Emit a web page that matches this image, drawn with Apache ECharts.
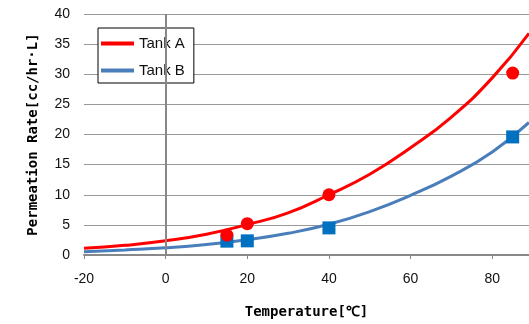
<!DOCTYPE html>
<html>
<head>
<meta charset="utf-8">
<script src="https://cdn.jsdelivr.net/npm/echarts@6/dist/echarts.min.js"></script>
<style>
  body { margin: 0; background: #fff; }
  #chart { width: 529px; height: 324px; }
</style>
</head>
<body>
<div id="chart"></div>
<script>
  // measured points
  var tempA = [15, 20, 40, 85];
  var rateA = [3.3, 5.2, 10.0, 30.2];
  var tempB = [15, 20, 40, 85];
  var rateB = [2.3, 2.35, 4.5, 19.6];

  // fitted curves
  var fitTemp = [-20, -10, 0, 10, 20, 30, 40, 50, 60, 70, 80, 89];
  var fitA = [1.1, 1.6, 2.35, 3.45, 5.05, 7.0, 10.0, 13.4, 17.8, 22.9, 29.4, 36.8];
  var fitB = [0.55, 0.85, 1.2, 1.75, 2.55, 3.6, 5.1, 7.2, 9.9, 13.1, 17.1, 22.0];

  function pairs(xs, ys) {
    return xs.map(function (x, i) { return [x, ys[i]]; });
  }

  var chart = echarts.init(document.getElementById("chart"));

  var option = {
    animation: false,
    backgroundColor: "#fff",
    grid: { left: 84, right: 0, top: 14, bottom: 66 },
    legend: {
      data: ["Tank A", "Tank B"],
      orient: "vertical",
      left: 98,
      top: 28,
      padding: [8, 9, 5, 3],
      itemGap: 12,
      itemWidth: 33,
      itemHeight: 4,
      icon: "rect",
      borderColor: "#000",
      borderWidth: 1,
      backgroundColor: "#fff",
      textStyle: { fontFamily: "Liberation Sans", fontSize: 15, color: "#111" }
    },
    xAxis: {
      type: "value",
      min: -20,
      max: 89,
      interval: 20,
      name: "Temperature[℃]",
      nameLocation: "middle",
      nameGap: 50,
      nameTextStyle: { fontFamily: "DejaVu Sans Mono", fontWeight: "bold", fontSize: 14, color: "#000" },
      axisLine: { lineStyle: { color: "#888", width: 2 } },
      axisTick: { show: true, length: 4, lineStyle: { color: "#888" } },
      axisLabel: { showMaxLabel: false, margin: 17, fontFamily: "Liberation Sans", fontSize: 14, color: "#111" },
      splitLine: { show: false }
    },
    yAxis: {
      type: "value",
      min: 0,
      max: 40,
      interval: 5,
      name: "Permeation Rate[cc/hr·L]",
      nameLocation: "middle",
      nameGap: 44,
      nameTextStyle: { fontFamily: "DejaVu Sans Mono", fontWeight: "bold", fontSize: 14, color: "#000" },
      axisLine: { show: false },
      axisTick: { show: false },
      axisLabel: { margin: 14, fontFamily: "Liberation Sans", fontSize: 14, color: "#111" },
      splitLine: { lineStyle: { color: "#999", width: 1 } }
    },
    series: [
      {
        name: "Tank B",
        type: "line",
        data: pairs(fitTemp, fitB),
        smooth: true,
        showSymbol: false,
        color: "#4A7EBB",
        lineStyle: { width: 3, color: "#4A7EBB" },
        z: 2,
        markLine: {
          silent: true,
          symbol: "none",
          label: { show: false },
          lineStyle: { color: "#888", width: 2, type: "solid" },
          data: [{ xAxis: 0 }]
        }
      },
      {
        name: "Tank B pts",
        type: "scatter",
        data: pairs(tempB, rateB),
        symbol: "rect",
        symbolSize: 13,
        itemStyle: { color: "#0070C0", opacity: 1 },
        z: 3
      },
      {
        name: "Tank A",
        type: "line",
        data: pairs(fitTemp, fitA),
        smooth: true,
        showSymbol: false,
        color: "#FF0000",
        lineStyle: { width: 3, color: "#FF0000" },
        z: 4
      },
      {
        name: "Tank A pts",
        type: "scatter",
        data: pairs(tempA, rateA),
        symbol: "circle",
        symbolSize: 13,
        itemStyle: { color: "#FF0000", opacity: 1 },
        z: 5
      }
    ]
  };

  chart.setOption(option);
</script>
</body>
</html>
